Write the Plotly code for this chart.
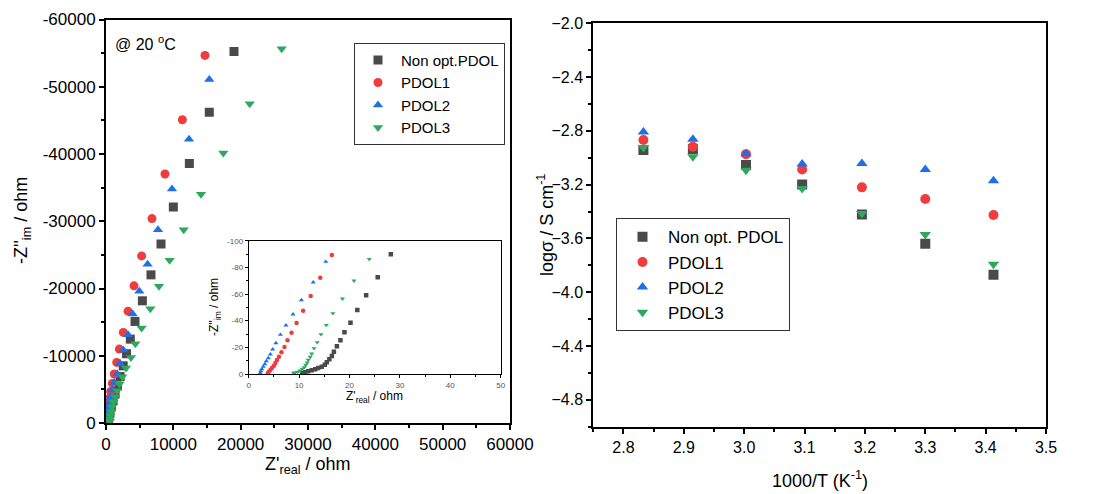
import plotly.graph_objects as go

W, H = 1118, 494

# ---------------- data ----------------
series_names_left = ["Non opt.PDOL", "PDOL1", "PDOL2", "PDOL3"]
series_names_right = ["Non opt. PDOL", "PDOL1", "PDOL2", "PDOL3"]

# main Nyquist plot (ohm)
nonopt_zre = [19010, 15340, 12380, 10000, 8170, 6680, 5400, 4310, 3610, 3050, 2550, 2100, 1700, 1350, 1050, 800, 600, 450, 350]
nonopt_zim = [-55250, -46190, -38570, -32130, -26630, -22030, -18170, -15100, -12470, -10300, -8500, -6900, -5500, -4300, -3300, -2400, -1600, -900, -400]
pdol1_zre = [14700, 11340, 8760, 6830, 5290, 4160, 3270, 2570, 1980, 1590, 1230, 940, 700, 500, 350, 220, 120, 60, 20]
pdol1_zim = [-54660, -45100, -37030, -30400, -24850, -20400, -16630, -13470, -10990, -9010, -7280, -5890, -4700, -3700, -2800, -2000, -1300, -700, -250]
pdol2_zre = [15340, 12330, 9800, 7720, 6180, 4950, 3960, 3270, 2570, 2080, 1680, 1230, 950, 720, 520, 370, 250, 150, 80]
pdol2_zim = [-51090, -42180, -34800, -28750, -23610, -19600, -16190, -13120, -10840, -8860, -7280, -6040, -4900, -3900, -3000, -2200, -1500, -900, -400]
pdol3_zre = [26090, 21340, 17420, 14110, 11540, 9450, 7870, 6580, 5290, 4360, 3710, 2970, 2420, 2000, 1650, 1350, 1100, 900, 750, 650, 580, 550]
pdol3_zim = [-55650, -47480, -40150, -34010, -28750, -24210, -20350, -16980, -14110, -11780, -9750, -8170, -6880, -5800, -4800, -3900, -3100, -2400, -1700, -1100, -600, -250]

# inset (ohm)
in_nonopt_zre = [28.2, 25.6, 23.3, 21.55, 20.2, 19.0, 18.2, 17.5, 16.9, 16.5, 16.0, 15.5, 15.1, 14.5, 13.8, 13.2, 12.5, 11.8, 11.2, 10.6]
in_nonopt_zim = [-89.75, -72.5, -59, -48, -38.5, -31.25, -25.25, -20.75, -16.75, -13.5, -11, -8.75, -7, -5.5, -4.5, -3.5, -2.75, -2, -1.25, -0.5]
in_pdol1_zre = [16.5, 14.2, 12.3, 10.8, 9.5, 8.5, 7.7, 7.1, 6.5, 6.0, 5.6, 5.3, 5.0, 4.6, 4.3, 4.0, 3.8]
in_pdol1_zim = [-89.25, -72.25, -58.5, -47.5, -38.25, -31, -25.25, -20.25, -16.25, -13, -10.5, -8.25, -6.25, -4.5, -3, -1.75, -0.75]
in_pdol2_zre = [15.3, 12.8, 10.45, 8.8, 7.4, 6.3, 5.4, 4.76, 4.3, 3.9, 3.5, 3.2, 2.9, 2.6, 2.4, 2.3]
in_pdol2_zim = [-84.25, -68.75, -55.5, -44.75, -36.5, -29.5, -23.25, -18.5, -14.75, -12, -9.75, -7.5, -5.5, -3.75, -2.25, -0.75]
in_pdol3_zre = [23.9, 20.9, 18.6, 16.7, 15.4, 14.35, 13.6, 12.96, 12.5, 12.2, 11.8, 11.6, 11.3, 11.04, 10.6, 10.2, 9.7, 9.2, 8.9]
in_pdol3_zim = [-86.25, -70, -56.5, -45.5, -36.75, -29.75, -23.75, -19.25, -15.25, -12.75, -10.5, -8.5, -6.75, -5, -3.75, -2.5, -1.5, -1, -0.75]

# Arrhenius plot
inv_T = [2.833, 2.915, 3.003, 3.096, 3.195, 3.300, 3.413]
logs_nonopt = [-2.943, -2.935, -3.054, -3.198, -3.421, -3.640, -3.870]
logs_pdol1 = [-2.868, -2.918, -2.973, -3.087, -3.220, -3.307, -3.426]
logs_pdol2 = [-2.809, -2.863, -2.970, -3.047, -3.042, -3.087, -3.171]
logs_pdol3 = [-2.923, -2.993, -3.092, -3.228, -3.414, -3.570, -3.791]

# tick labels
main_x_ticks = [0, 10000, 20000, 30000, 40000, 50000, 60000]
main_y_ticks = [0, -10000, -20000, -30000, -40000, -50000, -60000]
inset_x_ticks = [0, 10, 20, 30, 40, 50]
inset_y_ticks = [0, -20, -40, -60, -80, -100]
right_x_ticks = [2.8, 2.9, 3.0, 3.1, 3.2, 3.3, 3.4, 3.5]
right_y_ticks = [-2.0, -2.4, -2.8, -3.2, -3.6, -4.0, -4.4, -4.8]

# ---------------- style ----------------
colors = ["#4a4a4a", "#f03c3c", "#1f6fe6", "#2ea85c"]
symbols = ["square", "circle", "triangle-up", "triangle-down"]
FONT = "Liberation Sans, Arial, sans-serif"

def px_x(p):
    return p / W

def px_y(p):
    return 1 - p / H

fig = go.Figure()

main_data = [(nonopt_zre, nonopt_zim), (pdol1_zre, pdol1_zim), (pdol2_zre, pdol2_zim), (pdol3_zre, pdol3_zim)]
for i, (xs, ys) in enumerate(main_data):
    fig.add_trace(go.Scatter(x=xs, y=ys, mode="markers", name=series_names_left[i],
                             marker=dict(symbol=symbols[i], color=colors[i], size=9, line=dict(width=0)),
                             xaxis="x", yaxis="y", legend="legend"))

inset_data = [(in_nonopt_zre, in_nonopt_zim), (in_pdol1_zre, in_pdol1_zim), (in_pdol2_zre, in_pdol2_zim), (in_pdol3_zre, in_pdol3_zim)]
for i, (xs, ys) in enumerate(inset_data):
    fig.add_trace(go.Scatter(x=xs, y=ys, mode="markers", showlegend=False,
                             marker=dict(symbol=symbols[i], color=colors[i], size=4.5, line=dict(width=0)),
                             xaxis="x3", yaxis="y3"))

right_data = [logs_nonopt, logs_pdol1, logs_pdol2, logs_pdol3]
for i, ys in enumerate(right_data):
    fig.add_trace(go.Scatter(x=inv_T, y=ys, mode="markers", name=series_names_right[i],
                             marker=dict(symbol=symbols[i], color=colors[i], size=10, line=dict(width=0)),
                             xaxis="x2", yaxis="y2", legend="legend2"))

axis_common = dict(showline=True, linecolor="black", mirror=True, showgrid=False, zeroline=False,
                   ticks="outside", tickcolor="black", automargin=False)

fig.update_layout(
    template="none",
    width=W, height=H, margin=dict(l=0, r=0, t=0, b=0, autoexpand=False),
    paper_bgcolor="white", plot_bgcolor="white",
    font=dict(family=FONT, color="black"),
    xaxis=dict(**axis_common, domain=[px_x(106), px_x(510)], range=[0, 60000], linewidth=2,
               tickvals=main_x_ticks, ticktext=[str(v) for v in main_x_ticks], ticklen=5, tickwidth=1.5,
               minor=dict(ticks="outside", ticklen=3, dtick=5000, tickcolor="black"),
               tickfont=dict(size=17), anchor="y"),
    yaxis=dict(**axis_common, domain=[px_y(423), px_y(19.5)], range=[0, -60000], linewidth=2,
               tickvals=main_y_ticks, ticktext=[str(v) for v in main_y_ticks], ticklen=5, tickwidth=1.5,
               minor=dict(ticks="outside", ticklen=3, dtick=5000, tickcolor="black"),
               tickfont=dict(size=17), anchor="x"),
    xaxis2=dict(**axis_common, domain=[px_x(593.3), px_x(1046)], range=[2.75, 3.5], linewidth=2,
                tickvals=right_x_ticks, tickformat=".1f", ticklen=5, tickwidth=1.5,
                minor=dict(ticks="outside", ticklen=3, dtick=0.05, tickcolor="black"),
                tickfont=dict(size=16), anchor="y2"),
    yaxis2=dict(**axis_common, domain=[px_y(426.7), px_y(23.3)], range=[-5.0, -2.0], linewidth=2,
                tickvals=right_y_ticks, tickformat=".1f", ticklen=5, tickwidth=1.5,
                minor=dict(ticks="outside", ticklen=3, dtick=0.2, tickcolor="black"),
                tickfont=dict(size=16), anchor="x2"),
    xaxis3=dict(**axis_common, domain=[px_x(248.7), px_x(500.7)], range=[0, 50], linewidth=1,
                tickvals=inset_x_ticks, ticktext=[str(v) for v in inset_x_ticks], ticklen=3,
                minor=dict(ticks="outside", ticklen=2, dtick=5, tickcolor="black"),
                tickfont=dict(size=8, color="#555555"), anchor="y3"),
    yaxis3=dict(**axis_common, domain=[px_y(374), px_y(240.7)], range=[0, -100], linewidth=1,
                tickvals=inset_y_ticks, ticktext=[str(v) for v in inset_y_ticks], ticklen=3,
                minor=dict(ticks="outside", ticklen=2, dtick=10, tickcolor="black"),
                tickfont=dict(size=8, color="#555555"), anchor="x3"),
    legend=dict(x=px_x(354), y=px_y(42.7), xanchor="left", yanchor="top",
                bordercolor="#333333", borderwidth=1, bgcolor="white",
                font=dict(size=15), itemwidth=36, tracegroupgap=0),
    legend2=dict(x=px_x(616), y=px_y(218.3), xanchor="left", yanchor="top",
                 bordercolor="#333333", borderwidth=1, bgcolor="white",
                 font=dict(size=17), itemwidth=41, tracegroupgap=0),
)

annotations = [
    dict(text="@ 20 <sup>o</sup>C", x=px_x(113), y=px_y(43), xanchor="left", yanchor="middle",
         font=dict(size=16)),
    dict(text="Z'<sub>real</sub> / ohm", x=px_x(308), y=px_y(465), xanchor="center", yanchor="middle",
         font=dict(size=18)),
    dict(text="-Z''<sub>im</sub> / ohm", x=px_x(22), y=px_y(221), xanchor="center", yanchor="middle",
         textangle=-90, font=dict(size=18)),
    dict(text="Z'<sub>real</sub> / ohm", x=px_x(374), y=px_y(397), xanchor="center", yanchor="middle",
         font=dict(size=12)),
    dict(text="-Z''<sub>im</sub> / ohm", x=px_x(215), y=px_y(307), xanchor="center", yanchor="middle",
         textangle=-90, font=dict(size=12)),
    dict(text="1000/T (K<sup>-1</sup>)", x=px_x(820), y=px_y(479), xanchor="center", yanchor="middle",
         font=dict(size=18)),
    dict(text="logσ / S cm<sup>-1</sup>", x=px_x(545), y=px_y(225), xanchor="center", yanchor="middle",
         textangle=-90, font=dict(size=18)),
]
for a in annotations:
    a.update(xref="paper", yref="paper", showarrow=False)
fig.update_layout(annotations=annotations)

fig.write_html("out.html")
